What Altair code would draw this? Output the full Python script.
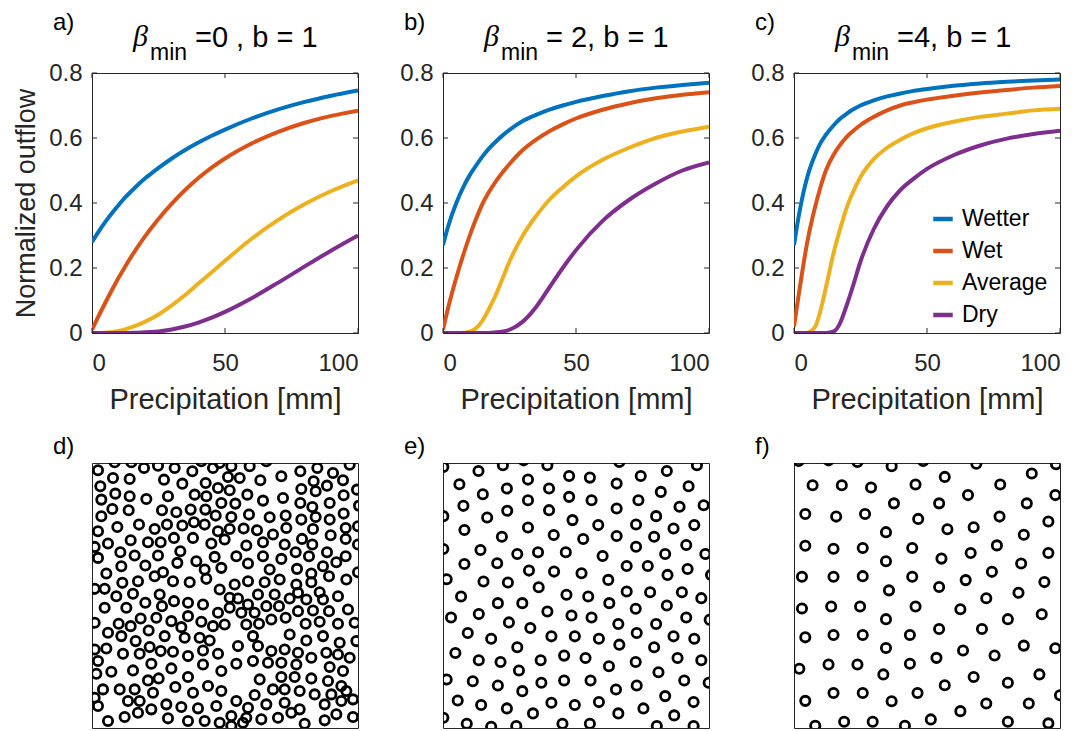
import altair as alt
import pandas as pd

FONT = "Liberation Sans"
TXT = "#262626"
SERIES = ["Wetter", "Wet", "Average", "Dry"]
COLORS = ["#0072BD", "#D95319", "#EDB120", "#7E2F8E"]

# ---------------- curve data ----------------
precip = [0, 2, 5, 8, 10, 12, 15, 17, 20, 22, 25, 30, 35, 40, 45, 50, 60, 70, 80, 90, 100]

a_wetter = [0.28, 0.306, 0.342, 0.374, 0.394, 0.413, 0.438, 0.454, 0.476, 0.489, 0.508, 0.537, 0.563, 0.586, 0.607, 0.626, 0.660, 0.688, 0.711, 0.730, 0.746]
a_wet = [0.01, 0.044, 0.093, 0.14, 0.17, 0.198, 0.238, 0.263, 0.298, 0.32, 0.351, 0.398, 0.44, 0.477, 0.509, 0.537, 0.583, 0.619, 0.647, 0.668, 0.684]
a_average = [0, 0, 0.001, 0.003, 0.006, 0.01, 0.018, 0.024, 0.035, 0.043, 0.057, 0.085, 0.117, 0.152, 0.187, 0.222, 0.29, 0.348, 0.397, 0.437, 0.47]
a_dry = [0, 0, 0, 0, 0, 0, 0.0005, 0.001, 0.002, 0.003, 0.005, 0.011, 0.02, 0.032, 0.047, 0.065, 0.107, 0.155, 0.205, 0.254, 0.30]

b_wetter = [0.27, 0.33, 0.40, 0.455, 0.485, 0.51, 0.545, 0.565, 0.59, 0.605, 0.625, 0.652, 0.671, 0.687, 0.70, 0.711, 0.729, 0.744, 0.755, 0.763, 0.77]
b_wet = [0.01, 0.08, 0.17, 0.25, 0.298, 0.342, 0.40, 0.43, 0.468, 0.49, 0.52, 0.563, 0.595, 0.621, 0.642, 0.66, 0.687, 0.707, 0.722, 0.733, 0.741]
b_average = [0, 0, 0, 0.001, 0.004, 0.012, 0.04, 0.07, 0.12, 0.16, 0.22, 0.30, 0.36, 0.41, 0.448, 0.482, 0.533, 0.57, 0.60, 0.62, 0.635]
b_dry = [0, 0, 0, 0, 0, 0, 0, 0, 0.002, 0.004, 0.01, 0.035, 0.08, 0.14, 0.20, 0.255, 0.345, 0.41, 0.46, 0.50, 0.525]

c_wetter = [0.27, 0.37, 0.48, 0.55, 0.585, 0.61, 0.64, 0.657, 0.676, 0.687, 0.70, 0.716, 0.728, 0.737, 0.745, 0.751, 0.761, 0.768, 0.773, 0.777, 0.78]
c_wet = [0.02, 0.13, 0.28, 0.39, 0.45, 0.50, 0.55, 0.575, 0.605, 0.62, 0.64, 0.665, 0.685, 0.70, 0.71, 0.718, 0.73, 0.74, 0.748, 0.755, 0.76]
c_average = [0, 0, 0.001, 0.02, 0.07, 0.14, 0.25, 0.31, 0.39, 0.43, 0.48, 0.535, 0.57, 0.595, 0.615, 0.63, 0.65, 0.665, 0.675, 0.685, 0.69]
c_dry = [0, 0, 0, 0, 0, 0, 0.005, 0.025, 0.09, 0.14, 0.22, 0.32, 0.39, 0.44, 0.475, 0.505, 0.547, 0.577, 0.598, 0.612, 0.622]

x_ticks = [0, 50, 100]
y_ticks = [0, 0.2, 0.4, 0.6, 0.8]

titles_top = [("a)", "=0 , b = 1"), ("b)", "= 2, b = 1"), ("c)", "=4, b = 1")]
labels_bottom = ["d)", "e)", "f)"]

# ---------------- point patterns (crop units) ----------------
# panel d: four crops, offsets of 405 units between neighbouring crops
d_q1 = [(30,42),(75,65),(125,68),(168,35),(210,28),(260,35),(313,45),(375,35),(130,18),(80,18),(340,15),
        (37,90),(82,112),(125,120),(175,128),(228,70),(240,120),(283,82),(320,115),(353,80),(390,95),(395,20),
        (40,130),(40,180),(73,158),(122,162),(222,162),(265,168),(308,160),(352,160),(383,178),(400,140),(355,120),
        (88,212),(153,205),(200,218),(237,205),(283,208),(318,198),(350,205),(390,225),(30,225),
        (60,262),(128,252),(180,258),(218,258),(258,245),(315,245),(370,262),(410,250),(20,272),
        (30,305),(97,288),(140,298),(210,298),(277,285),(325,315),(380,302),
        (55,352),(100,330),(172,328),(225,348),(268,320),(350,340),(400,335),
        (20,398),(50,398),(103,380),(150,375),(200,360),(255,375),(305,378),(355,368),(395,400)]
d_q2 = [(25,30),(80,30),(130,15),(232,45),(283,35),(330,50),(380,25),(15,62),(50,65),(112,72),(175,60),(272,75),(312,88),(360,72),(402,100),
        (20,102),(73,115),(120,133),(180,125),(235,98),(278,105),(37,142),(232,140),(268,152),(320,140),(362,117),(408,148),
        (25,182),(78,175),(140,183),(188,178),(235,190),(278,182),(320,190),(362,172),(405,210),
        (20,218),(62,217),(102,222),(150,235),(190,215),(237,248),(270,218),(323,237),(368,215),
        (70,268),(120,258),(185,265),(268,265),(312,288),(368,248),(405,265),
        (40,300),(120,300),(175,308),(218,288),(258,300),(368,300),
        (75,322),(140,340),(222,338),(265,352),(300,330),(340,318),(405,348),
        (35,385),(75,375),(125,378),(170,370),(220,385),(265,378),(318,360),(370,370),
        (225,410),(290,408)]
d_q3 = [(85,15),(135,8),(215,10),(258,30),(300,35),(345,40),
        (50,50),(115,50),(172,35),(222,45),(250,90),(300,75),(390,65),
        (20,95),(92,98),(60,125),(128,105),(158,82),(205,80),(280,108),(340,92),(375,105),(410,100),
        (20,175),(55,172),(100,135),(143,150),(182,118),(230,135),(290,140),(335,140),(365,148),
        (105,188),(155,188),(185,168),(218,180),(255,182),(300,195),(345,178),(390,188),(30,210),
        (70,242),(135,238),(190,218),(250,232),(300,258),(345,220),(25,248),(400,240),
        (45,295),(95,295),(140,295),(180,268),(212,262),(262,288),(315,305),(360,285),(400,300),
        (30,345),(120,330),(155,330),(195,305),(235,340),(280,348),(330,352),(385,345),(20,320),
        (60,390),(110,378),(150,365),(190,355),(240,382),(300,390),(350,390),(395,395)]
d_q4 = [(20,20),(45,22),(75,40),(105,10),(155,10),(200,22),(250,25),(300,25),(345,15),(20,50),(55,65),(95,65),(130,45),(168,45),(225,60),(270,58),(318,60),(375,55),
        (70,100),(108,98),(145,85),(188,80),(248,98),(290,92),(345,98),(395,95),
        (45,165),(90,135),(105,165),(145,180),(185,175),(200,130),(225,185),(250,148),(300,135),(350,155),(400,150),
        (40,218),(90,210),(135,215),(175,215),(220,220),(265,200),(310,185),(345,190),(380,200),
        (110,265),(175,258),(215,258),(265,262),(320,228),(360,240),(315,270),(355,285),
        (95,312),(150,295),(185,295),(230,300),(275,310),(325,310),(370,300),
        (40,330),(75,350),(130,340),(185,335),(230,355),(305,340),(355,330),(390,325),
        (25,375),(70,380),(115,385),(165,380),(205,365),(245,398),(305,388),(340,370),(390,378),
        (25,405),(60,395)]
d_frame = ([12, 810], [20, 816])

# panel e: two crops, the lower one 405 units further down
e_top = [(22,30),(127,42),(200,25),(262,10),(333,25),(548,15),(690,42),(780,25),
         (70,82),(212,95),(275,68),(398,57),(460,62),(540,80),(612,57),(755,88),
         (140,112),(338,95),(398,120),(672,105),(82,147),(213,162),(275,130),(465,130),(605,130),(728,150),(800,145),
         (22,178),(153,182),(338,160),(408,190),(540,155),(658,178),
         (85,220),(197,240),(275,212),(352,235),(485,205),(598,203),(710,215),(772,205),
         (440,247),(540,238),(652,240),
         (22,277),(133,280),(243,292),(305,287),(388,287),(498,298),(598,270),(685,292),(748,265),(805,292),
         (85,322),(183,320),(278,342),(353,345),(435,350),(570,328),(633,328),(692,355),(752,337),(822,355),
         (32,368),(142,375),(215,378),(515,370),
         (307,392)]
e_bottom = [(75,15),(390,10),(455,15),(570,0),(640,2),(735,2),(793,20),
            (185,35),(258,35),(333,60),(518,35),(597,52),(690,42),(45,78),(128,68),(405,72),(465,78),(748,78),(818,85),
            (218,93),(282,110),(545,98),(658,98),(95,125),(165,142),(345,135),(415,135),(487,142),(600,125),(710,135),(772,142),
            (243,168),(548,160),(652,168),
            (58,185),(128,207),(193,212),(313,207),(383,193),(447,200),(517,225),(597,212),(722,200),(793,207),
            (248,238),(665,243),
            (32,265),(110,270),(185,283),(258,300),(315,275),(383,268),(462,268),(538,295),(600,283),(742,268),(815,275),
            (65,328),(135,342),(212,352),(290,367),(345,335),(415,342),(487,333),(545,367),(620,352),(685,315),(770,333),(712,373),
            (22,380),(92,398),(165,407),(240,405),(378,398),(460,398),(660,405),(770,405)]
e_frame = ([21, 816], [18, 816])

# panel f: one crop
f_points = [(35,12),(125,10),(212,15),(315,28),(410,12),(570,20),(810,22),
            (77,85),(165,85),(253,92),(387,83),(475,60),(642,83),(737,50),
            (545,115),(322,140),(458,140),(722,140),(808,115),
            (55,172),(148,180),(235,172),(395,187),(640,180),(787,195),
            (298,227),(483,218),(562,212),(713,235),
            (55,268),(140,277),(228,275),(377,275),(632,267),(787,290),
            (298,315),(465,307),(553,290),(705,322),
            (45,362),(140,362),(228,360),(377,362),(617,347),(775,378),
            (307,403),(458,393),(538,372),(697,410),
            (45,458),(133,452),(220,452),(387,452),(600,427),(767,475),
            (298,490),(522,460),(665,490),
            (55,545),(140,538),(228,538),(370,538),(458,520),(587,520),(713,570),(808,578),
            (298,577),(450,607),(530,585),(625,600),
            (37,640),(125,627),(212,627),(370,625),(290,657),(562,665),(665,682),(760,657),
            (475,690),(822,720),
            (55,737),(140,713),(228,713),(393,713),(315,738),(600,745),(728,745),(522,768),
            (85,812),(172,800),(258,800),(355,812),(433,793),(665,800),(787,805)]
f_frame = ([21, 822], [18, 819])

W = 266
H_TOP = 260
H_BOT = 265


def text_layer(txt, x, y, size, font=FONT, style="normal", color="black"):
    return alt.Chart(pd.DataFrame({"t": [txt]})).mark_text(
        align="left", baseline="alphabetic", font=font, fontSize=size,
        fontStyle=style, color=color
    ).encode(x=alt.value(x), y=alt.value(y), text="t:N")


def curve_panel(series_lists, idx, show_ytitle, show_legend):
    rows = []
    for name, vals in zip(SERIES, series_lists):
        for p, q in zip(precip, vals):
            rows.append({"p": p, "q": q, "s": name})
    df = pd.DataFrame(rows)
    xs = alt.Scale(domain=[0, 100], nice=False, zero=False)
    ys = alt.Scale(domain=[0, 0.8], nice=False)
    xax = alt.Axis(values=x_ticks, title="Precipitation [mm]", labelPadding=18,
                   titlePadding=10, titleFontSize=29)
    if show_ytitle:
        yax = alt.Axis(values=y_ticks, format="~g", title="Normalized outflow",
                       labelPadding=10, titlePadding=8, titleFontSize=27)
    else:
        yax = alt.Axis(values=y_ticks, format="~g", title=None, labelPadding=10)
    if show_legend:
        leg = alt.Legend(orient="none", legendX=137, legendY=134, title=None,
                         symbolType="stroke", symbolStrokeWidth=4.5, symbolSize=380,
                         labelFont=FONT, labelFontSize=23, labelColor="black",
                         labelOffset=7, rowPadding=8, padding=0)
    else:
        leg = None
    lines = alt.Chart(df).mark_line(strokeWidth=4, interpolate="monotone", clip=True).encode(
        x=alt.X("p:Q", scale=xs, axis=xax),
        y=alt.Y("q:Q", scale=ys, axis=yax),
        color=alt.Color("s:N", scale=alt.Scale(domain=SERIES, range=COLORS), legend=leg),
        detail="s:N",
    )
    xt = pd.DataFrame({"p": x_ticks})
    yt = pd.DataFrame({"q": y_ticks})
    tick_b = alt.Chart(xt).mark_rule(color=TXT, strokeWidth=1).encode(
        x=alt.X("p:Q", scale=xs, axis=xax), y=alt.value(H_TOP), y2=alt.value(H_TOP - 5))
    tick_t = alt.Chart(xt).mark_rule(color=TXT, strokeWidth=1).encode(
        x=alt.X("p:Q", scale=xs, axis=xax), y=alt.value(0), y2=alt.value(5))
    tick_l = alt.Chart(yt).mark_rule(color=TXT, strokeWidth=1).encode(
        y=alt.Y("q:Q", scale=ys, axis=yax), x=alt.value(0), x2=alt.value(5))
    tick_r = alt.Chart(yt).mark_rule(color=TXT, strokeWidth=1).encode(
        y=alt.Y("q:Q", scale=ys, axis=yax), x=alt.value(W), x2=alt.value(W - 5))
    lab, rest = titles_top[idx]
    t1 = text_layer(lab, -39, -43, 24)
    t2 = text_layer("\u03b2", 41, -27, 30, font="Liberation Serif", style="italic")
    t3 = text_layer("min", 58, -13, 23)
    t4 = text_layer(rest, 103, -26, 29)
    return alt.layer(lines, tick_b, tick_t, tick_l, tick_r, t1, t2, t3, t4).properties(width=W, height=H_TOP)


def point_panel(pts, frame, lab):
    df = pd.DataFrame(pts, columns=["u", "v"])
    pts_layer = alt.Chart(df).mark_point(shape="circle", filled=False, size=86, strokeWidth=2.8,
                                         color="black", opacity=1, clip=True).encode(
        x=alt.X("u:Q", scale=alt.Scale(domain=frame[0], nice=False, zero=False), axis=None),
        y=alt.Y("v:Q", scale=alt.Scale(domain=frame[1], nice=False, zero=False, reverse=True), axis=None),
    )
    t = text_layer(lab, -39, -9, 24)
    return alt.layer(pts_layer, t).properties(width=W, height=H_BOT)


d_all = (list(d_q1)
         + [(u + 405, v) for u, v in d_q2]
         + [(u, v + 405) for u, v in d_q3]
         + [(u + 405, v + 405) for u, v in d_q4])
e_all = list(e_top) + [(u, v + 405) for u, v in e_bottom]

pa = curve_panel([a_wetter, a_wet, a_average, a_dry], 0, True, False)
pb = curve_panel([b_wetter, b_wet, b_average, b_dry], 1, False, False)
pc = curve_panel([c_wetter, c_wet, c_average, c_dry], 2, False, True)
pdd = point_panel(d_all, d_frame, labels_bottom[0])
pe = point_panel(e_all, e_frame, labels_bottom[1])
pf = point_panel(f_points, f_frame, labels_bottom[2])

chart = alt.concat(
    pa, pb, pc, pdd, pe, pf, columns=3,
    spacing={"row": 130, "column": 85}, bounds="flush"
).resolve_scale(
    x="independent", y="independent", color="independent"
).resolve_legend(color="independent").configure_view(
    stroke=TXT, strokeWidth=1
).configure_axis(
    domain=False, ticks=False, grid=False,
    labelFont=FONT, labelFontSize=24, labelColor=TXT,
    titleFont=FONT, titleFontSize=26, titleColor=TXT, titleFontWeight="normal"
).properties(padding={"left": 4, "top": 2, "right": 5, "bottom": 5})

chart.save("out.html", embed_options={"renderer": "svg", "actions": False})
